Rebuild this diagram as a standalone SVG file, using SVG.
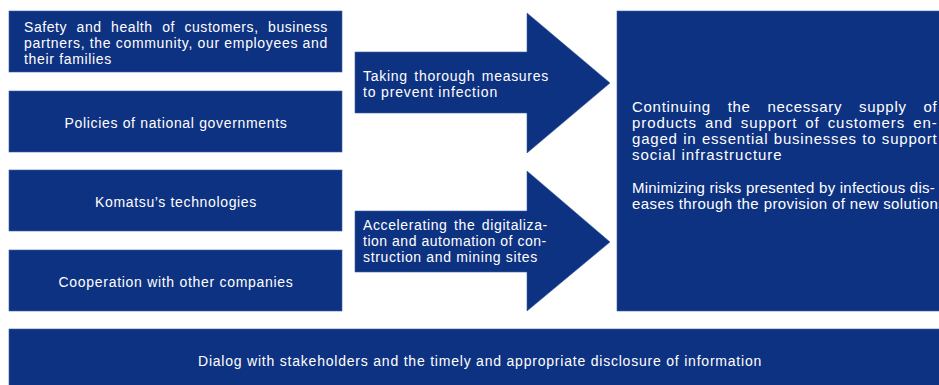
<svg xmlns="http://www.w3.org/2000/svg" width="939" height="385" viewBox="0 0 939 385">
<style>
.box{fill:#0e3282;stroke:#3b5ea3;stroke-width:0.6}
.t{fill:#ffffff;font-family:"Liberation Sans",Arial,sans-serif;font-size:14px;letter-spacing:0.7px}
.a{letter-spacing:0.8px}
.r{font-size:15px;letter-spacing:0.3px}
.c{text-anchor:middle}
</style>
<rect width="939" height="385" fill="#ffffff"/>
<g id="node-safety">
<rect class="box" x="9" y="11" width="333" height="61"/>
<text class="t" x="24" y="32" style="word-spacing:5px" textLength="304" lengthAdjust="spacing">Safety and health of customers, business</text>
<text class="t" x="24" y="48" textLength="304" lengthAdjust="spacing">partners, the community, our employees and</text>
<text class="t" x="24" y="64" textLength="88" lengthAdjust="spacing">their families</text>
</g>
<g id="node-policies">
<rect class="box" x="9" y="91" width="333" height="61"/>
<text class="t c" x="176" y="128" textLength="223" lengthAdjust="spacing">Policies of national governments</text>
</g>
<g id="node-tech">
<rect class="box" x="9" y="170" width="333" height="61"/>
<text class="t c" x="176" y="207" textLength="162" lengthAdjust="spacing">Komatsu’s technologies</text>
</g>
<g id="node-coop">
<rect class="box" x="9" y="250" width="333" height="61"/>
<text class="t c" x="176" y="287" textLength="235" lengthAdjust="spacing">Cooperation with other companies</text>
</g>
<g id="connectors">
<g id="arrow-infection">
<polygon class="box" points="355,52 527,52 527,13 610,83 527,153 527,113 355,113"/>
<text class="t a" x="363" y="81" style="word-spacing:2px" textLength="186" lengthAdjust="spacing">Taking thorough measures</text>
<text class="t a" x="363" y="97" textLength="135" lengthAdjust="spacing">to prevent infection</text>
</g>
<g id="arrow-digital">
<polygon class="box" points="355,211 527,211 527,171 610,242 527,311 527,272 355,272"/>
<text class="t a" x="363" y="230" style="word-spacing:2px" textLength="185" lengthAdjust="spacing">Accelerating the digitaliza-</text>
<text class="t a" x="363" y="246" textLength="184" lengthAdjust="spacing">tion and automation of con-</text>
<text class="t a" x="363" y="262" textLength="175" lengthAdjust="spacing">struction and mining sites</text>
</g>
</g>
<g id="node-outcome">
<rect class="box" x="617" y="11" width="330" height="300"/>
<text class="t r" x="632" y="112" style="word-spacing:12px" textLength="305" lengthAdjust="spacing">Continuing the necessary supply of</text>
<text class="t r" x="632" y="128" style="word-spacing:3px" textLength="305" lengthAdjust="spacing">products and support of customers en-</text>
<text class="t r" x="632" y="144" style="word-spacing:0.5px" textLength="305" lengthAdjust="spacing">gaged in essential businesses to support</text>
<text class="t r" x="632" y="160" textLength="150" lengthAdjust="spacing">social infrastructure</text>
<text class="t r" x="632" y="193" textLength="303" lengthAdjust="spacing">Minimizing risks presented by infectious dis-</text>
<text class="t r" x="632" y="209" textLength="314" lengthAdjust="spacing">eases through the provision of new solutions</text>
</g>
<g id="node-dialog">
<rect class="box" x="9" y="329" width="940" height="60"/>
<text class="t c" x="480" y="366" textLength="564" lengthAdjust="spacing">Dialog with stakeholders and the timely and appropriate disclosure of information</text>
</g>
</svg>
